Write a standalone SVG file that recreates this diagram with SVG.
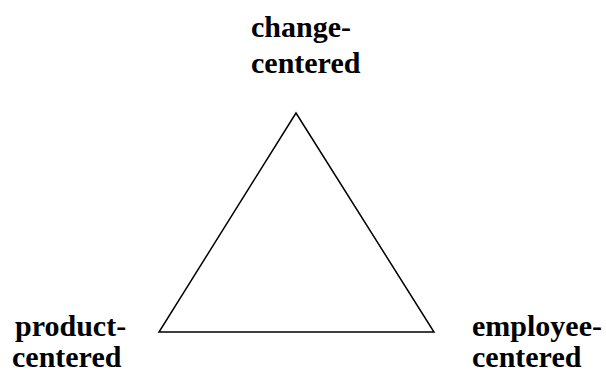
<svg xmlns="http://www.w3.org/2000/svg" width="606" height="371" viewBox="0 0 606 371">
<style>
.lbl{font-family:"Liberation Serif","Times New Roman",serif;font-weight:bold;font-size:30px;fill:#000}
.edge{fill:none;stroke:#000;stroke-width:1.5}
</style>
<rect width="606" height="371" fill="#fff"/>
<g id="connectors">
<polygon class="edge" points="296,113 159,332 434,332"/>
</g>
<g id="change">
<text class="lbl" x="251" y="37">change-</text>
<text class="lbl" x="251" y="73">centered</text>
</g>
<g id="product">
<text class="lbl" x="15" y="336">product-</text>
<text class="lbl" x="12" y="367">centered</text>
</g>
<g id="employee">
<text class="lbl" x="472" y="336">employee-</text>
<text class="lbl" x="472" y="367">centered</text>
</g>
</svg>
